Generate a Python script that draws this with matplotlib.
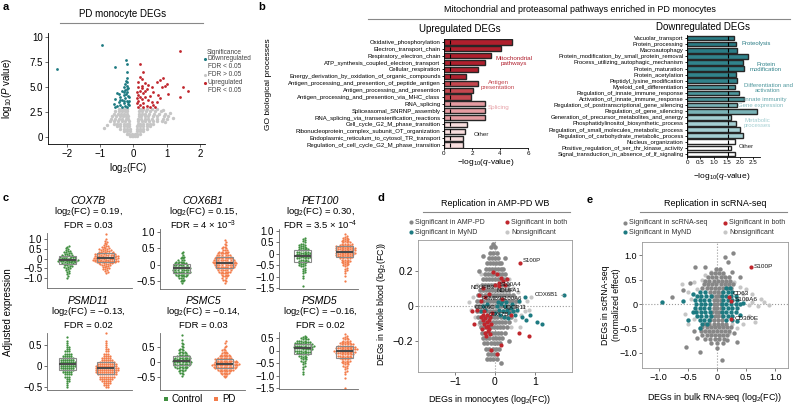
import numpy as np
import matplotlib

matplotlib.use("Agg")
import matplotlib.pyplot as plt  # noqa: E402

plt.rcParams["font.family"] = ["Liberation Sans", "DejaVu Sans"]
plt.rcParams["mathtext.fontset"] = "custom"
plt.rcParams["mathtext.rm"] = "Liberation Sans"
plt.rcParams["mathtext.it"] = "Liberation Sans:italic"
plt.rcParams["axes.linewidth"] = 0.6
plt.rcParams["xtick.major.width"] = 0.6
plt.rcParams["ytick.major.width"] = 0.6

W, H = 795, 409

# ---------------- panel a: volcano ----------------
a_gray_rows = [
    (0.1, [-0.1, -0.05, 0.0, 0.05, 0.1]),
    (0.35, [-0.2, -0.12, -0.05, 0.05, 0.12, 0.2]),
    (0.6, [-0.3, -0.2, -0.1, 0.1, 0.2, 0.3]),
    (0.85, [-0.4, -0.3, -0.2, -0.11, 0.11, 0.2, 0.3, 0.4]),
    (1.1, [-0.5, -0.4, -0.3, -0.2, -0.12, 0.12, 0.2, 0.3, 0.4, 0.5]),
    (1.35, [-0.6, -0.5, -0.4, -0.3, -0.2, -0.13, 0.13, 0.2, 0.3, 0.4, 0.5, 0.6]),
    (1.6, [-0.7, -0.58, -0.47, -0.36, -0.25, -0.14, 0.14, 0.25, 0.36, 0.47, 0.58, 0.7, 0.85]),
    (1.85, [-0.68, -0.56, -0.45, -0.34, -0.24, -0.15, 0.15, 0.24, 0.34, 0.45, 0.56, 0.7, 0.88]),
    (2.1, [-0.65, -0.53, -0.42, -0.32, -0.22, -0.16, 0.16, 0.24, 0.34, 0.45, 0.58, 0.72, 0.92]),
    (2.35, [-0.6, -0.48, -0.38, -0.28, -0.2, 0.17, 0.26, 0.36, 0.48, 0.62, 0.78, 0.95]),
    (2.6, [-0.55, -0.45, -0.35, -0.26, -0.19, 0.18, 0.27, 0.37, 0.5, 0.66, 0.82]),
    (2.85, [-0.45, -0.35, -0.26, -0.2, 0.19, 0.29, 0.4, 0.55, 0.7]),
]
a_gray_extra_x = [1.0, 0.95, 1.1, 1.2, -0.8, -0.9, 1.05, 0.9]
a_gray_extra_y = [1.8, 1.5, 2.4, 1.9, 1.2, 0.9, 2.1, 2.7]

a_down_x = [-2.3, -0.95, -0.55, -0.22, -0.2, -0.2, -0.2, -0.22, -0.18, -0.25, -0.2, -0.3,
            -0.15, -0.25, -0.35, -0.5, -0.45, -0.2, -0.3, -0.15, -0.4, -0.25, -0.55, -0.35,
            -0.2, -0.45, -0.3, -0.15, -0.4, -0.25, -0.5, -0.35, -0.2, -0.12, -0.6, -0.55,
            -0.12, -0.12, -0.3, -0.2, -0.28, -0.4, -0.15, -0.22]
a_down_y = [6.8, 9.2, 7.0, 7.7, 7.3, 6.5, 5.9, 5.6, 5.5, 5.3, 5.1, 5.0,
            4.9, 4.7, 4.6, 4.4, 4.3, 4.5, 4.2, 4.1, 4.0, 3.9, 3.8, 3.7,
            3.6, 3.5, 3.4, 3.3, 3.2, 3.1, 3.1, 3.0, 3.0, 3.2, 3.3, 3.0,
            3.6, 4.0, 4.5, 4.8, 3.6, 3.7, 3.5, 4.3]
a_up_x = [1.4, 0.2, 0.3, 0.2, 0.25, 0.15, 0.35, 0.9, 0.8, 0.7, 1.0, 0.95, 1.5, 1.65,
          0.85, 0.55, 0.45, 0.25, 0.4, 0.2, 0.6, 0.3, 0.75, 1.05, 0.5, 0.15, 0.35, 0.25,
          0.45, 0.15, 0.55, 0.3, 0.6, 0.2, 0.4, 0.7, 0.8, 1.4, 0.15, 0.3, 0.5, 0.65,
          0.2, 0.25, 0.15, 0.35, 0.12, 0.12, 0.12]
a_up_y = [8.6, 7.3, 6.5, 6.0, 5.8, 5.5, 5.4, 5.9, 5.7, 5.5, 5.3, 5.1, 5.0, 4.6,
          5.0, 5.0, 5.2, 5.1, 4.8, 4.6, 4.5, 4.4, 4.2, 4.3, 4.1, 4.2, 4.0, 3.8,
          3.7, 3.6, 3.5, 3.4, 3.2, 3.2, 3.1, 3.5, 3.9, 4.0, 3.0, 3.0, 3.0, 3.0,
          4.0, 4.9, 5.0, 4.6, 3.4, 3.9, 4.5]

# ---------------- panel b: GO enrichment bars ----------------
up_terms = ["Oxidative_phosphorylation", "Electron_transport_chain", "Respiratory_electron_chain",
            "ATP_synthesis_coupled_electron_transport", "Cellular_respiration",
            "Energy_derivation_by_oxidation_of_organic_compounds",
            "Antigen_processing_and_presention_of_peptide_antigen",
            "Antigen_processing_and_presention", "Antigen_processing_and_presention_via_MHC_class",
            "RNA_splicing", "Spliceasomal_SNRNP_assembly",
            "RNA_splicing_via_transesterification_reactions", "Cell_cycle_G2_M_phase_transition",
            "Ribonucleoprotein_complex_subunit_OT_organization",
            "Endoplasmic_reticulum_to_cytosol_TR_transport",
            "Regulation_of_cell_cycle_G2_M_phase_transition"]
up_vals = [4.85, 4.05, 3.35, 2.95, 2.4, 1.55, 2.4, 2.05, 1.95, 2.9, 2.9, 2.9, 1.65, 1.5, 1.35, 1.35]
up_group = [0, 0, 0, 0, 0, 0, 1, 1, 1, 2, 2, 2, 3, 3, 3, 3]
up_colors = ["#b01f2d", "#c4474f", "#e59ca2", "#f8dede"]

dn_terms = ["Vacuolar_transport", "Protein_processing", "Macroautophagy",
            "Protein_modification_by_small_protein_removal", "Process_utilizing_autophagic_mechanism",
            "Protein_maturation", "Protein_acetylation", "Peptidyl_lysine_modification",
            "Myeloid_cell_differentiation", "Regulation_of_innate_immune_response",
            "Activation_of_innate_immune_response", "Regulation_of_posttranscriptional_gene_silencing",
            "Regulation_of_gene_silencing", "Generation_of_precursor_metabolites_and_energy",
            "Phosphatidylinositol_biosynthetic_process", "Regulation_of_small_molecules_metabolic_process",
            "Regulation_of_carbohydrate_metabolic_process", "Nucleus_organization",
            "Positive_regulation_of_ser_thr_kinase_activity",
            "Signal_transduction_in_absence_of_lf_signaling"]
dn_vals = [1.77, 1.85, 1.9, 2.3, 2.1, 2.15, 1.85, 1.9, 1.8, 1.95, 2.15, 1.9, 2.65, 1.65, 1.85,
           2.0, 2.1, 1.8, 1.65, 1.8]
dn_group = [0, 0, 0, 1, 1, 1, 1, 1, 2, 2, 2, 3, 3, 4, 4, 4, 4, 5, 5, 5]
dn_colors = ["#2a7c85", "#31838b", "#4c969c", "#7ab3b7", "#a4cfd2", "#ffffff"]

# ---------------- panel c: adjusted expression ----------------
c_genes = ["COX7B", "COX6B1", "PET100", "PSMD11", "PSMC5", "PSMD5"]
c_fc = ["0.19", "0.15", "0.30", "\u22120.13", "\u22120.14", "\u22120.16"]
c_fdr = ["0.03", "4 \u00d7 10$^{-3}$", "3.5 \u00d7 10$^{-4}$", "0.02", "0.03", "0.02"]
c_yticks = [[-1.0, -0.5, 0, 0.5, 1.0], [-0.5, 0, 0.5, 1.0], [-1.5, -1.0, -0.5, 0, 0.5, 1.0],
            [-0.5, 0, 0.5], [-0.5, 0, 0.5], [-1.5, -1.0, -0.5, 0, 0.5]]
c_step = 0.05
c_ctrl_lo = [-1.0, -0.55, -1.4, -0.5, -0.45, -0.95]
c_ctrl_counts = [
    [1, 0, 1, 0, 1, 1, 1, 1, 1, 1, 2, 2, 2, 2, 3, 3, 4, 4, 5, 5, 4, 4, 4, 3, 3, 2, 2, 2, 2, 1, 1, 1, 1, 1],
    [1, 2, 2, 3, 4, 5, 6, 7, 7, 7, 6, 6, 5, 4, 3, 2, 2, 1, 1, 1],
    [1, 0, 0, 0, 0, 0, 0, 1, 0, 1, 0, 1, 1, 1, 1, 1, 1, 2, 2, 2, 2, 3, 3, 3, 4, 4, 4, 4, 4, 4, 4, 3, 3, 3,
     2, 2, 2, 2, 1, 1, 1, 1, 1],
    [1, 1, 1, 2, 2, 3, 4, 5, 6, 7, 8, 8, 8, 7, 6, 5, 4, 3, 2, 2, 1, 1, 1, 0, 1],
    [1, 1, 2, 2, 3, 4, 5, 6, 6, 7, 7, 6, 6, 5, 4, 3, 3, 2, 2, 1, 1, 1, 1, 0, 1, 0, 0, 1],
    [1, 0, 1, 0, 1, 0, 1, 1, 1, 1, 1, 2, 2, 2, 2, 3, 3, 4, 4, 5, 5, 5, 6, 6, 5, 5, 4, 4, 3, 2, 2, 1],
]
c_pd_lo = [-0.75, -0.55, -1.2, -0.5, -0.5, -1.5]
c_pd_counts = [
    [1, 1, 1, 1, 2, 2, 2, 2, 3, 3, 4, 5, 5, 6, 6, 6, 6, 6, 6, 5, 5, 4, 4, 3, 3, 3, 2, 2, 2, 1, 1, 1, 1, 1,
     0, 1, 0, 0, 0, 0, 1],
    [1, 1, 2, 2, 3, 3, 4, 5, 6, 7, 8, 9, 10, 10, 9, 8, 7, 6, 5, 4, 3, 2, 2, 1, 1, 1, 1],
    [1, 0, 0, 0, 0, 1, 0, 1, 0, 1, 1, 1, 1, 1, 2, 2, 2, 3, 3, 3, 4, 4, 5, 5, 6, 6, 6, 6, 6, 6, 5, 5, 4, 4,
     3, 3, 2, 2, 2, 1, 1, 1],
    [2, 3, 4, 5, 7, 8, 10, 11, 12, 12, 11, 10, 8, 6, 5, 4, 3, 2, 2, 1, 1, 1, 1, 0, 0, 0, 1],
    [1, 2, 3, 4, 5, 7, 8, 9, 10, 10, 9, 8, 7, 6, 5, 4, 3, 2, 2, 1, 1, 1, 0, 1, 1],
    [1, 0, 0, 0, 0, 0, 0, 0, 1, 0, 0, 1, 0, 1, 1, 1, 1, 1, 2, 2, 2, 3, 3, 3, 4, 4, 5, 5, 6, 6, 7, 7, 6, 6,
     5, 5, 4, 3, 3, 2, 2, 1, 1, 1],
]

# ---------------- panel d: AMP-PD whole blood ----------------
d_gray_rows = [
    (0.33, [-0.1, 0.0]),
    (0.30, [-0.12, -0.04, 0.04]),
    (0.27, [-0.15, -0.08, 0.0, 0.08]),
    (0.24, [-0.2, -0.12, -0.05, 0.02, 0.09, 0.16]),
    (0.21, [-0.22, -0.15, -0.08, 0.0, 0.07, 0.14, 0.21]),
    (0.18, [-0.25, -0.18, -0.11, -0.04, 0.03, 0.1, 0.17, 0.24]),
    (0.15, [-0.3, -0.22, -0.15, -0.08, 0.0, 0.07, 0.14, 0.21, 0.28]),
    (0.12, [-0.32, -0.25, -0.18, -0.1, -0.03, 0.04, 0.11, 0.18, 0.25, 0.32]),
    (0.09, [-0.38, -0.3, -0.22, -0.15, -0.08, 0.0, 0.07, 0.14, 0.21, 0.28, 0.36]),
    (0.06, [-0.42, -0.34, -0.26, -0.18, -0.1, -0.03, 0.05, 0.12, 0.2, 0.28, 0.36, 0.45]),
    (0.03, [-0.45, -0.37, -0.29, -0.21, -0.13, -0.05, 0.03, 0.11, 0.19, 0.27, 0.35, 0.43, 0.52]),
    (0.00, [-0.48, -0.4, -0.32, -0.24, -0.16, -0.08, 0.0, 0.08, 0.16, 0.24, 0.32, 0.4, 0.5]),
    (-0.03, [-0.45, -0.37, -0.29, -0.21, -0.13, -0.05, 0.03, 0.11, 0.19, 0.27, 0.35, 0.45]),
    (-0.06, [-0.42, -0.34, -0.26, -0.18, -0.1, -0.02, 0.06, 0.14, 0.22, 0.3, 0.4]),
    (-0.09, [-0.38, -0.3, -0.22, -0.14, -0.06, 0.02, 0.1, 0.18, 0.26, 0.34]),
    (-0.12, [-0.35, -0.27, -0.19, -0.11, -0.03, 0.05, 0.13, 0.21, 0.29]),
    (-0.15, [-0.32, -0.24, -0.16, -0.08, 0.0, 0.08, 0.16, 0.24]),
    (-0.18, [-0.3, -0.22, -0.14, -0.06, 0.02, 0.1, 0.18]),
    (-0.21, [-0.27, -0.19, -0.11, -0.03, 0.05, 0.13]),
    (-0.24, [-0.22, -0.14, -0.06, 0.02, 0.1]),
    (-0.27, [-0.18, -0.1, -0.02, 0.06]),
    (-0.30, [-0.12, -0.04, 0.04]),
]
d_gray_extra_x = [-0.3, 0.25, -0.2, 0.15, -0.4, 0.35, -0.05]
d_gray_extra_y = [0.28, 0.27, -0.3, -0.32, 0.2, -0.2, 0.35]
d_ns_x = [0.5, 0.6, 0.55, 0.65, 0.7, 0.8, -0.55, -0.6, -0.5, 0.45, 0.5, 0.4, -0.45, -0.4, 0.58,
          0.75, 0.85, -0.65, 0.35, -0.35, 0.62, 0.48, 0.9]
d_ns_y = [0.05, 0.02, -0.03, -0.05, 0.0, 0.03, 0.05, -0.02, -0.06, 0.1, -0.08, -0.12, 0.12, -0.1,
          0.08, -0.03, -0.02, 0.02, 0.15, 0.18, -0.12, 0.02, 0.05]
d_both_x = [-0.3, -0.25, -0.2, -0.15, -0.28, -0.22, -0.17, -0.12, -0.32, -0.25, -0.18, -0.1, -0.3,
            -0.2, -0.14, -0.27, -0.08, -0.35, -0.22, -0.12,
            -0.35, -0.4, -0.25, -0.15, 0.1, 0.2, 0.15, 0.05, -0.05, 0.1, 0.25, 0.18, -0.3, 0.3, 0.0,
            0.63, -0.57, -0.52, 0.85, 0.6, -0.45, 0.05, 0.15, -0.1, 0.4]
d_both_y = [-0.05, -0.07, -0.05, -0.08, -0.1, -0.12, -0.11, -0.06, -0.13, -0.15, -0.14, -0.1, -0.08,
            -0.09, -0.13, -0.03, -0.04, -0.06, -0.17, -0.16,
            0.03, 0.06, 0.05, 0.07, 0.13, 0.14, 0.16, 0.18, 0.19, 0.11, 0.12, 0.04, 0.1, 0.15, 0.12,
            0.24, -0.03, -0.1, -0.17, -0.15, -0.02, -0.27, -0.22, -0.25, -0.05]
d_mynd_x = [-0.3, -0.25, -0.35, 0.05, 0.1, 0.15, 0.2, 0.25, 0.3, 0.35, 0.4, 0.45, 0.12, 0.22, 0.32,
            0.5, 0.08, 0.18, 0.28, 0.42, 0.55, -0.2, 0.6, 0.0,
            1.72, 0.75, 0.68, 0.78, 0.87, 1.05, 1.17]
d_mynd_y = [0.0, -0.02, -0.03, 0.0, -0.02, 0.01, -0.03, 0.0, -0.02, -0.04, -0.01, -0.03, -0.05,
            -0.06, -0.07, -0.05, 0.02, 0.03, 0.02, 0.01, -0.02, 0.01, 0.03, -0.04,
            0.06, 0.05, -0.06, -0.08, -0.05, -0.09, -0.1]
d_label_text = ["NDUFB3", "S100A4", "NDUFA1", "S100A6", "PSMB9", "COX6C", "UQCR11", "COX7B", "S100P"]
d_label_x = [-0.62, 0.12, 0.05, 0.15, -0.35, -0.5, 0.18, -0.15, 0.7]
d_label_y = [0.105, 0.12, 0.085, 0.045, 0.045, -0.01, -0.01, -0.05, 0.255]

# ---------------- panel e: scRNA-seq ----------------
e_ns_x = [-0.6, -0.5, -0.45, -0.55, -0.5, -0.4, -0.35, -0.3, -0.25, -0.2, -0.1, 0.0, 0.1, 0.2,
          0.3, 0.4, 0.45, 0.5, 0.55, 0.6, 0.7, 0.8, 0.65, 0.55, 0.45, 0.35, 0.2, 0.05, -0.1, -0.2,
          -0.4, -0.3, -0.15, 0.15, 0.35, 0.25, -0.05, 0.1, 0.5, -0.35, 0.6, 0.75, 0.9,
          -0.02, 0.03, -0.03, 0.02, 0.0, 0.04, -0.04]
e_ns_y = [0.4, 0.25, 0.1, -0.2, -0.4, 0.45, 0.3, -0.5, 0.5, 0.6, 0.65, 0.7, 0.6, 0.55,
          0.45, 0.35, 0.2, 0.1, -0.02, 0.05, -0.05, 0.05, -0.37, -0.25, -0.4, -0.5, -0.6, -0.65,
          -0.6, -0.55, -0.3, 0.15, 0.35, 0.4, 0.1, -0.4, -0.45, -0.45, 0.3, -0.15, 0.2, 0.1,
          -0.03, 0.12, 0.2, -0.12, -0.2, 0.28, 0.04, -0.04]
e_gray_rows = [
    (0.72, [-0.02, 0.05]),
    (0.64, [-0.1, -0.03, 0.04, 0.11]),
    (0.56, [-0.15, -0.08, -0.01, 0.06, 0.13, 0.2]),
    (0.48, [-0.2, -0.13, -0.06, 0.01, 0.08, 0.15, 0.22]),
    (0.40, [-0.22, -0.15, -0.08, -0.01, 0.06, 0.13, 0.2, 0.27]),
    (0.32, [-0.25, -0.18, -0.11, -0.04, 0.03, 0.1, 0.17, 0.24]),
    (0.24, [-0.12, -0.05, 0.02, 0.09]),
    (0.16, [-0.08, -0.02, 0.04]),
    (0.08, [-0.06, 0.0, 0.06]),
    (0.00, [-0.06, 0.0, 0.06]),
    (-0.08, [-0.06, 0.0, 0.06]),
    (-0.16, [-0.08, -0.02, 0.04]),
    (-0.24, [-0.1, -0.04, 0.02, 0.08]),
    (-0.32, [-0.12, -0.05, 0.02, 0.09]),
    (-0.40, [-0.2, -0.13, -0.06, 0.01, 0.08, 0.15]),
    (-0.48, [-0.25, -0.18, -0.11, -0.04, 0.03, 0.1, 0.17, 0.24]),
    (-0.56, [-0.28, -0.21, -0.14, -0.07, 0.0, 0.07, 0.14, 0.21]),
    (-0.64, [-0.25, -0.18, -0.11, -0.04, 0.03, 0.1, 0.17]),
    (-0.72, [-0.2, -0.12, -0.04, 0.04, 0.12]),
    (-0.80, [-0.1, 0.0, 0.1]),
]
e_gray_extra_x = [-0.38, 0.14, 0.19, 0.27, 0.26, 0.39, -0.21, -0.47, -0.59, -0.78, -0.53, -0.3,
                  0.09, 0.34, 0.0, 0.17, -0.35, 0.3, -0.4]
e_gray_extra_y = [0.76, 0.96, 0.86, 1.04, 0.65, 0.56, 0.76, 0.43, 0.29, 0.14, -0.88, -0.98,
                  -1.14, -0.78, -0.9, -0.73, -0.7, -0.6, -0.55]
e_mynd_rows = [
    (0.32, [0.15, 0.22]),
    (0.24, [-0.3, -0.2, 0.1, 0.18, 0.26]),
    (0.16, [-0.35, -0.27, -0.19, -0.11, 0.08, 0.16, 0.24, 0.32]),
    (0.08, [-0.38, -0.3, -0.22, -0.14, 0.1, 0.18, 0.26, 0.34]),
    (0.00, [-0.36, -0.28, -0.2, -0.12, 0.08, 0.16, 0.24, 0.32, 0.4]),
    (-0.08, [-0.38, -0.3, -0.22, -0.14, 0.1, 0.18, 0.26, 0.34]),
    (-0.16, [-0.36, -0.28, -0.2, -0.12, 0.08, 0.16, 0.24, 0.32]),
    (-0.24, [-0.35, -0.27, -0.19, -0.11, 0.1, 0.18, 0.26]),
    (-0.32, [-0.3, -0.22, -0.14, 0.15, 0.25]),
    (-0.40, [-0.25, -0.17]),
]
e_mynd_extra_x = [-0.95, -0.58, -0.41, -0.5, -0.29, -0.42, 0.45, 0.4, 0.35]
e_mynd_extra_y = [0.04, 0.06, -0.16, -0.33, -0.49, 0.2, 0.02, -0.22, -0.35]
e_both_x = [0.58, 0.2, 0.24, 0.24]
e_both_y = [0.76, 0.15, 0.06, -0.3]
e_label_text = ["S100P", "CD63", "S100A6", "CD300E"]
e_label_x = [0.63, 0.27, 0.3, 0.3]
e_label_y = [0.76, 0.22, 0.1, -0.3]

TEAL = "#1d7a81"
RED = "#c0262d"
DGRAY = "#878787"
LGRAY = "#c6c6c6"
GREEN = "#3f8f3f"
ORANGE = "#f37c4a"


def flat(rows):
    xs, ys = [], []
    for y, row in rows:
        xs += row
        ys += [y] * len(row)
    return xs, ys


def add_ax(fig, x0, y0, x1, y1):
    return fig.add_axes([x0 / W, 1 - y1 / H, (x1 - x0) / W, (y1 - y0) / H])


def swarm(vals_px, d):
    order = np.argsort(vals_px)
    px_list, py_list = [], []
    out = np.zeros(len(vals_px))
    for i in order:
        y = vals_px[i]
        near = [(px, py) for px, py in zip(px_list, py_list) if abs(py - y) < d]
        cand = [0.0]
        for px, py in near:
            dx = np.sqrt(d * d - (py - y) ** 2)
            cand += [px + dx, px - dx]
        cand.sort(key=abs)
        chosen = 0.0
        for c in cand:
            if all((c - px) ** 2 + (y - py) ** 2 >= d * d - 1e-6 for px, py in near):
                chosen = c
                break
        out[i] = chosen
        px_list.append(chosen)
        py_list.append(y)
    return out


def fmt_tick(v):
    if v == 0:
        return "0"
    return f"{v:.1f}".replace("-", "\u2212")


fig = plt.figure(figsize=(W / 100, H / 100), dpi=100)

# ---- a ----
axa = add_ax(fig, 48, 33, 205, 144)
gx, gy = flat(a_gray_rows)
axa.scatter(gx + a_gray_extra_x, gy + a_gray_extra_y, s=6, color=LGRAY, lw=0, zorder=1)
axa.scatter(a_down_x, a_down_y, s=4, color=TEAL, lw=0, zorder=2)
axa.scatter(a_up_x, a_up_y, s=4, color=RED, lw=0, zorder=2)
axa.set_xlim(-2.57, 2.15)
axa.set_ylim(-0.7, 10.4)
axa.set_xticks([-2, -1, 0, 1, 2])
axa.set_yticks([0, 2.5, 5, 7.5, 10])
axa.set_yticklabels(["0", "2.5", "5.0", "7.5", "10"])
axa.tick_params(labelsize=7, length=2, pad=1.5, color="#555")
for s in ["top", "right"]:
    axa.spines[s].set_visible(False)

# ---- b left ----
axl = add_ax(fig, 444, 39, 528, 148)
yl = np.arange(len(up_terms))
axl.barh(yl, up_vals, height=0.75, color=[up_colors[g] for g in up_group],
         edgecolor="#262626", lw=1.0)
axl.scatter([0.42] * len(yl), yl, marker="|", s=8, color="black", lw=0.8, zorder=3)
axl.set_xlim(0, 6)
axl.set_ylim(15.43, -0.44)
axl.set_yticks(yl)
axl.set_yticklabels(up_terms, fontsize=4.3)
axl.set_xticks([0, 2, 4, 6])
axl.tick_params(axis="x", labelsize=4.5, length=1.5, pad=1)
axl.tick_params(axis="y", length=1.5, pad=1)
for s in ["top", "right"]:
    axl.spines[s].set_visible(False)

# ---- b right ----
axr = add_ax(fig, 687, 35, 760, 157)
yr = np.arange(len(dn_terms))
axr.barh(yr, dn_vals, height=0.75, color=[dn_colors[g] for g in dn_group],
         edgecolor="#262626", lw=1.0)
axr.scatter([1.55] * len(yr), yr, marker="|", s=8, color="black", lw=0.8, zorder=3)
axr.set_xlim(0, 2.75)
axr.set_ylim(19.5, -0.5)
axr.set_yticks(yr)
axr.set_yticklabels(dn_terms, fontsize=4.2)
axr.set_xticks([0, 0.5, 1, 1.5, 2, 2.5])
axr.set_xticklabels(["0", "0.5", "1.0", "1.5", "2.0", "2.5"])
axr.tick_params(axis="x", labelsize=4.5, length=1.5, pad=1)
axr.tick_params(axis="y", length=1.5, pad=1)
for s in ["top", "right"]:
    axr.spines[s].set_visible(False)

# ---- c ----
c_boxes = [(47, 233, 132, 288), (160, 229, 245, 289), (279, 229, 358, 289),
           (47, 333, 132, 390), (160, 333, 245, 390), (279, 332, 358, 389)]
c_ylims = [(-1.51, 1.31), (-0.73, 1.09), (-1.54, 1.09), (-0.57, 0.79), (-0.93, 0.97), (-1.54, 0.74)]
c_xlims = [(0.47, 2.68), (0.49, 2.47), (0.43, 2.31), (0.47, 2.68), (0.49, 2.47), (0.43, 2.31)]
c_title_x = [88, 203, 320, 88, 203, 320]
c_title_y = [201, 201, 201, 301, 301, 301]
for i in range(6):
    x0, y0, x1, y1 = c_boxes[i]
    ax = add_ax(fig, x0, y0, x1, y1)
    ax.set_xlim(*c_xlims[i])
    ax.set_ylim(*c_ylims[i])
    ppu_x = (x1 - x0) / (c_xlims[i][1] - c_xlims[i][0])
    ppu_y = (y1 - y0) / (c_ylims[i][1] - c_ylims[i][0])
    groups = []
    for lo, counts, pos, col in [(c_ctrl_lo[i], c_ctrl_counts[i], 1, GREEN),
                                 (c_pd_lo[i], c_pd_counts[i], 2, ORANGE)]:
        vals = np.repeat(lo + c_step * np.arange(len(counts)), counts)
        off = swarm(vals * ppu_y, 2.0)
        ax.scatter(pos + off / ppu_x, vals, s=2.6, color=col, lw=0, zorder=2, clip_on=False)
        groups.append(vals)
    bw = 17 / ppu_x
    ax.boxplot(groups, positions=[1, 2], widths=bw, whis=0, showfliers=False, showcaps=False,
               patch_artist=True, manage_ticks=False,
               boxprops=dict(facecolor="none", edgecolor="#8a8a8a", lw=0.8),
               medianprops=dict(color="#4a4a4a", lw=1.5),
               whiskerprops=dict(lw=0), zorder=3)
    ax.set_xticks([])
    ax.set_yticks(c_yticks[i])
    ax.set_yticklabels([fmt_tick(v) for v in c_yticks[i]])
    ax.tick_params(axis="y", labelsize=7, length=2, pad=1.5, color="#555")
    for s in ["top", "right"]:
        ax.spines[s].set_visible(False)
    ax.spines["left"].set_color("#666")
    ax.spines["bottom"].set_color("#666")

# ---- d ----
axd = add_ax(fig, 418, 240, 572, 372)
gx, gy = flat(d_gray_rows)
axd.scatter(d_ns_x, d_ns_y, s=9, color=LGRAY, lw=0, zorder=1)
axd.scatter(gx + d_gray_extra_x, gy + d_gray_extra_y, s=11, color=DGRAY, lw=0, zorder=2)
axd.scatter(d_mynd_x, d_mynd_y, s=9, color=TEAL, lw=0, zorder=3)
axd.scatter(d_both_x, d_both_y, s=9, color=RED, lw=0, zorder=4)
for t, x, y in zip(d_label_text, d_label_x, d_label_y):
    axd.text(x, y, t, fontsize=4.3, color="#111", va="center", zorder=5)
axd.annotate("COX6B1", xy=(d_mynd_x[24], d_mynd_y[24]), xytext=(1.0, 0.065), fontsize=4.3,
             va="center", color="#111",
             arrowprops=dict(arrowstyle="-", color="#999", lw=0.5, shrinkA=0, shrinkB=2))
axd.axhline(0, color="#999", ls=":", lw=0.8, zorder=0)
axd.axvline(0, color="#999", ls=":", lw=0.8, zorder=0)
axd.set_xlim(-1.93, 1.93)
axd.set_ylim(-0.372, 0.372)
axd.set_xticks([-1, 0, 1])
axd.set_yticks([-0.2, 0, 0.2])
axd.set_yticklabels(["\u22120.2", "0", "0.2"])
axd.tick_params(labelsize=7.5, length=2, pad=1.5, color="#666")
for s in axd.spines.values():
    s.set_color("#999")

# ---- e ----
axe = add_ax(fig, 642, 242, 788, 368)
gx, gy = flat(e_gray_rows)
mx, my = flat(e_mynd_rows)
axe.scatter(e_ns_x, e_ns_y, s=9, color=LGRAY, lw=0, zorder=1)
axe.scatter(gx + e_gray_extra_x, gy + e_gray_extra_y, s=10, color=DGRAY, lw=0, zorder=2)
axe.scatter(mx + e_mynd_extra_x, my + e_mynd_extra_y, s=10, color=TEAL, lw=0, zorder=3)
axe.scatter(e_both_x, e_both_y, s=9, color=RED, lw=0, zorder=4)
for t, x, y in zip(e_label_text, e_label_x, e_label_y):
    axe.text(x, y, t, fontsize=4.6, color="#111", va="center", zorder=5)
axe.axhline(0, color="#999", ls=":", lw=0.8, zorder=0)
axe.axvline(0, color="#999", ls=":", lw=0.8, zorder=0)
axe.set_xlim(-1.29, 1.22)
axe.set_ylim(-1.31, 1.27)
ticks = [-1.0, -0.5, 0, 0.5, 1.0]
axe.set_xticks(ticks)
axe.set_xticklabels([fmt_tick(v) for v in ticks])
axe.set_yticks(ticks)
axe.set_yticklabels([fmt_tick(v) for v in ticks])
axe.tick_params(labelsize=6.5, length=2, pad=1.5, color="#666")
for s in axe.spines.values():
    s.set_color("#999")

# ---- overlay: titles, letters, legends ----
ov = fig.add_axes([0, 0, 1, 1], zorder=10)
ov.set_xlim(0, W)
ov.set_ylim(H, 0)
ov.axis("off")

for letter, x, y in [("a", 3, 7), ("b", 258, 7), ("c", 3, 198), ("d", 378, 198), ("e", 587, 200)]:
    ov.text(x, y, letter, fontsize=8, fontweight="bold", va="center")

ov.text(123, 14, "PD monocyte DEGs", fontsize=7, ha="center", va="center")
ov.plot([60, 203], [23, 23], color="#888", lw=0.8)
ov.text(7, 88, "log$_{10}$($P$ value)", fontsize=7, rotation=90, ha="center", va="center")
ov.text(128, 168, "log$_2$(FC)", fontsize=7, ha="center", va="center")

ov.text(207, 52, "Significance", fontsize=4.7, color="#444", va="center")
for y, col in [(59, TEAL), (75, LGRAY), (83, RED)]:
    ov.scatter([204.5], [y], s=5, color=col, lw=0)
for y, t in [(59, "Downregulated"), (67, "FDR < 0.05"), (75, "FDR > 0.05"), (83, "Upregulated"),
             (90, "FDR < 0.05")]:
    ov.text(208, y, t, fontsize=4.7, color="#444", va="center")

ov.text(580, 10, "Mitochondrial and proteasomal pathways enriched in PD monocytes", fontsize=6.5,
        ha="center", va="center")
ov.plot([368, 790], [19, 19], color="#888", lw=0.8)
ov.text(460, 29, "Upregulated DEGs", fontsize=7, ha="center", va="center")
ov.text(703, 27, "Downregulated DEGs", fontsize=7, ha="center", va="center")
ov.text(268, 84, "GO biological processes", fontsize=6, rotation=90, ha="center", va="center")
ov.text(486, 163, "\u2212log$_{10}$($q$-value)", fontsize=6, ha="center", va="center")
ov.text(722, 176, "\u2212log$_{10}$($q$-value)", fontsize=6, ha="center", va="center")

for x, y, t, col in [(514, 61, "Mitochondrial\npathways", up_colors[0]),
                     (498, 85, "Antigen\npresentation", up_colors[1]),
                     (499, 108, "Splicing", "#e7a2a8"),
                     (481, 134, "Other", "#222")]:
    ov.text(x, y, t, fontsize=4.5, color=col, ha="center", va="center", linespacing=1.2)
for x, y, t, col in [(756, 43, "Proteolysis", dn_colors[0]),
                     (766, 67, "Protein\nmodification", dn_colors[1]),
                     (768, 88, "Differentiation and\nactivation", "#4c969c"),
                     (765, 99, "innate immunity", "#5fa2a8"),
                     (761, 106, "Gene expression", "#86bcc0"),
                     (757, 123, "Metabolic\nprocesses", "#a4cfd2"),
                     (746, 147, "Other", "#222")]:
    ov.text(x, y, t, fontsize=4.3, color=col, ha="center", va="center", linespacing=1.2)

for i in range(6):
    x, y = c_title_x[i], c_title_y[i]
    ov.text(x, y, c_genes[i], fontsize=7.5, style="italic", ha="center", va="center")
    ov.text(x, y + 11, "log$_2$(FC) = " + c_fc[i] + ",", fontsize=6.8, ha="center", va="center")
    ov.text(x, y + 24, "FDR = " + c_fdr[i], fontsize=6.8, ha="center", va="center")
ov.text(8, 312, "Adjusted expression", fontsize=7, rotation=90, ha="center", va="center")
ov.scatter([166], [399], marker="s", s=7, color=GREEN, lw=0)
ov.text(171, 399, "Control", fontsize=7, va="center")
ov.scatter([216], [399], marker="s", s=7, color=ORANGE, lw=0)
ov.text(222, 399, "PD", fontsize=7, va="center")

# d / e headers and legends
ov.text(495, 203, "Replication in AMP-PD WB", fontsize=6.5, ha="center", va="center")
ov.plot([423, 570], [212, 212], color="#888", lw=0.8)
ov.text(715, 203, "Replication in scRNA-seq", fontsize=6.5, ha="center", va="center")
ov.plot([640, 787], [212, 212], color="#888", lw=0.8)
for (x, y, col, t) in [(411, 222, DGRAY, "Significant in AMP-PD"), (411, 232, TEAL, "Significant in MyND"),
                       (507, 222, RED, "Significant in both"), (507, 232, LGRAY, "Nonsignificant"),
                       (625, 223, DGRAY, "Significant in scRNA-seq"), (625, 232, TEAL, "Significant in MyND"),
                       (725, 223, RED, "Significant in both"), (725, 232, LGRAY, "Nonsignificant")]:
    ov.scatter([x], [y], s=9, color=col, lw=0)
    ov.text(x + 4, y, t, fontsize=5, color="#333", va="center")
ov.text(382, 304, "DEGs in whole blood (log$_2$(FC))", fontsize=6.3, rotation=90, ha="center",
        va="center")
ov.text(490, 400, "DEGs in monocytes (log$_2$(FC))", fontsize=6.5, ha="center", va="center")
ov.text(611, 305, "DEGs in scRNA-seq\n(normalized effect)", fontsize=6.3, rotation=90, ha="center",
        va="center", multialignment="center")
ov.text(715, 397, "DEGs in bulk RNA-seq (log$_2$(FC))", fontsize=6.5, ha="center", va="center")

fig.savefig("out.png", dpi=100)
